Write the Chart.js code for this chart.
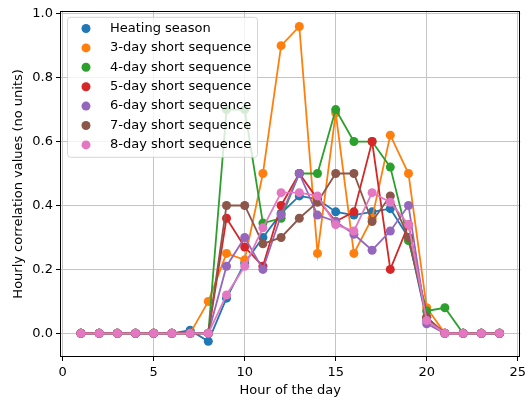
<!DOCTYPE html>
<html>
<head>
<meta charset="utf-8">
<script src="https://cdn.jsdelivr.net/npm/chart.js@4.4.1/dist/chart.umd.min.js"></script>
<style>
  html, body { margin: 0; padding: 0; background: #fff; }
</style>
</head>
<body>
<canvas id="myChart" width="530" height="401"></canvas>
<script>
// hour of the day
const hours = [1, 2, 3, 4, 5, 6, 7, 8, 9, 10, 11, 12, 13, 14, 15, 16, 17, 18, 19, 20, 21, 22, 23, 24];

const seriesNames = ['Heating season', '3-day short sequence', '4-day short sequence', '5-day short sequence',
    '6-day short sequence', '7-day short sequence', '8-day short sequence'];
const seriesColors = ['#1f77b4', '#ff7f0e', '#2ca02c', '#d62728', '#9467bd', '#8c564b', '#e377c2'];

// hourly correlation values
const heating = [0, 0, 0, 0, 0, 0, 0.01, -0.025, 0.11, 0.22, 0.30, 0.375, 0.43, 0.42, 0.38, 0.37, 0.38, 0.39, 0.30, 0.04, 0, 0, 0, 0];
const day3    = [0, 0, 0, 0, 0, 0, 0, 0.10, 0.25, 0.23, 0.50, 0.90, 0.96, 0.25, 0.69, 0.25, 0.36, 0.62, 0.50, 0.08, 0, 0, 0, 0];
const day4    = [0, 0, 0, 0, 0, 0, 0, 0, 0.70, 0.70, 0.345, 0.36, 0.50, 0.50, 0.70, 0.60, 0.60, 0.52, 0.29, 0.07, 0.08, 0, 0, 0];
const day5    = [0, 0, 0, 0, 0, 0, 0, 0, 0.36, 0.27, 0.21, 0.40, 0.50, 0.42, 0.35, 0.38, 0.60, 0.20, 0.34, 0.05, 0, 0, 0, 0];
const day6    = [0, 0, 0, 0, 0, 0, 0, 0, 0.21, 0.30, 0.20, 0.37, 0.50, 0.37, 0.35, 0.31, 0.26, 0.32, 0.40, 0.03, 0, 0, 0, 0];
const day7    = [0, 0, 0, 0, 0, 0, 0, 0, 0.40, 0.40, 0.28, 0.30, 0.36, 0.41, 0.50, 0.50, 0.35, 0.43, 0.30, 0.05, 0, 0, 0, 0];
const day8    = [0, 0, 0, 0, 0, 0, 0, 0, 0.12, 0.21, 0.33, 0.44, 0.44, 0.43, 0.34, 0.32, 0.44, 0.41, 0.34, 0.04, 0, 0, 0, 0];

const allSeries = [heating, day3, day4, day5, day6, day7, day8];

const xTicks = [0, 5, 10, 15, 20, 25];
const yTicks = [0.0, 0.2, 0.4, 0.6, 0.8, 1.0];

Chart.defaults.font.family = '"DejaVu Sans", sans-serif';
Chart.defaults.font.size = 13;
Chart.defaults.color = '#000';

// frame on all four sides + matplotlib-like legend in the upper left
const frameAndLegend = {
    id: 'frameAndLegend',
    afterDatasetsDraw(chart) {
        const ctx = chart.ctx;
        const a = chart.chartArea;
        ctx.save();
        ctx.strokeStyle = '#000';
        ctx.lineWidth = 1;
        ctx.strokeRect(Math.round(a.left) + 0.5, Math.round(a.top) + 0.5,
            Math.round(a.right - a.left) - 1, Math.round(a.bottom - a.top) - 1);

        const x = a.left + 7, y = a.top + 6, w = 190, h = 140;
        ctx.beginPath();
        ctx.roundRect(x + 0.5, y + 0.5, w, h, 3);
        ctx.fillStyle = 'rgba(255,255,255,0.8)';
        ctx.fill();
        ctx.strokeStyle = 'rgba(204,204,204,0.8)';
        ctx.stroke();

        ctx.textBaseline = 'middle';
        ctx.textAlign = 'left';
        ctx.font = '13px "DejaVu Sans"';
        chart.data.datasets.forEach((ds, i) => {
            const cy = y + 11.7 + i * 19.4;
            ctx.beginPath();
            ctx.arc(x + 19, cy, 4.5, 0, Math.PI * 2);
            ctx.fillStyle = ds.backgroundColor;
            ctx.fill();
            ctx.fillStyle = '#000';
            ctx.fillText(ds.label, x + 43, cy);
        });
        ctx.restore();
    }
};

const ctx = document.getElementById('myChart');
const myChart = new Chart(ctx, {
    type: 'line',
    data: {
        datasets: allSeries.map((vals, i) => ({
            label: seriesNames[i],
            data: vals.map((v, j) => ({ x: hours[j], y: v })),
            borderColor: seriesColors[i],
            backgroundColor: seriesColors[i],
            borderWidth: 1.8,
            pointRadius: 4.5,
            pointBorderWidth: 0,
            pointHoverRadius: 4.5,
            // later series drawn on top, like matplotlib
            order: allSeries.length - i
        }))
    },
    options: {
        responsive: false,
        animation: false,
        devicePixelRatio: 1,
        layout: { padding: { top: 9, right: 8, left: 0, bottom: 0 } },
        plugins: {
            legend: { display: false },
            tooltip: { enabled: false }
        },
        scales: {
            x: {
                type: 'linear',
                min: -0.15,
                max: 25.15,
                afterBuildTicks: s => { s.ticks = xTicks.map(v => ({ value: v })); },
                afterFit: s => { s.height = 44; },
                ticks: { padding: 4, callback: v => String(v), maxRotation: 0, autoSkip: false },
                grid: { color: '#c4c4c4', lineWidth: 1, tickColor: '#000', tickLength: 4 },
                border: { display: false },
                title: { display: true, text: 'Hour of the day', padding: { top: 0, bottom: 3 } }
            },
            y: {
                type: 'linear',
                min: -0.074,
                max: 1.009,
                afterBuildTicks: s => { s.ticks = yTicks.map(v => ({ value: v })); },
                afterFit: s => { s.width = 60; },
                ticks: { padding: 3, callback: v => v.toFixed(1), autoSkip: false },
                grid: { color: '#c4c4c4', lineWidth: 1, tickColor: '#000', tickLength: 4 },
                border: { display: false },
                title: { display: true, text: 'Hourly correlation values (no units)', padding: { top: 11, bottom: 0 } }
            }
        }
    },
    plugins: [frameAndLegend]
});
</script>
</body>
</html>
